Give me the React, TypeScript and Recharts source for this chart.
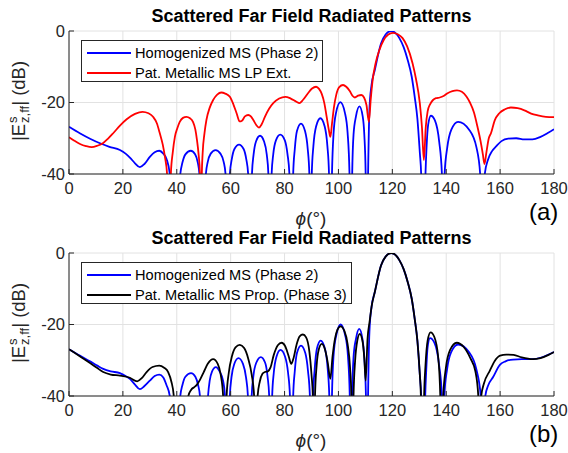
import React from 'react';
import { LineChart, Line, XAxis, YAxis, CartesianGrid } from 'recharts';

type Pt = [number, number];

const PHI_TICKS = [0, 20, 40, 60, 80, 100, 120, 140, 160, 180];
const DB_TICKS = [-40, -20, 0];

const TITLE = 'Scattered Far Field Radiated Patterns';
const NAME_HOMOG = 'Homogenized MS (Phase 2)';
const NAME_LP = 'Pat. Metallic MS LP Ext.';
const NAME_PROP = 'Pat. Metallic MS Prop. (Phase 3)';

// (a) blue: homogenized MS, phase 2  [phi deg, dB]
const homogTop: Pt[] = [
  [0, -26.8], [4, -28.6], [8, -30.2], [11.5, -31.4], [15, -32.4], [18.9, -33.3], [21, -34.3], [22.6, -35.4],
  [24.5, -37], [26.3, -38.1], [28, -37.2], [30, -35.2], [31.8, -33.9], [33.5, -33.5], [35, -34.3], [36.2, -35.8],
  [37.4, -40], [39.3, -70],
  [41.3, -40], [42.1, -36.8], [43.2, -34.5], [45.2, -33.5], [46.8, -34.5], [47.8, -36.8], [48.4, -40], [49.6, -70],
  [50.8, -40], [51.5, -36.6], [52.6, -34.3], [54.4, -33.3], [56.2, -34.3], [57.4, -36.6], [58.1, -40], [58.9, -70],
  [59.7, -40], [60.4, -35.9], [61.4, -33], [63.1, -31.8], [64.8, -33], [65.8, -35.9], [66.5, -40], [67.2, -70],
  [67.9, -40], [68.5, -34.6], [69.4, -30.9], [70.9, -29.3], [72.4, -30.9], [73.4, -34.6], [74, -40], [74.6, -70],
  [75.2, -40], [75.8, -34.5], [76.8, -30.6], [78.4, -29], [80.1, -30.6], [81.1, -34.5], [81.8, -40], [82.5, -70],
  [83.2, -40], [83.8, -33], [84.6, -28], [86.1, -25.9], [87.6, -28], [88.6, -33], [89.2, -40], [89.6, -70],
  [90.1, -40], [90.7, -32.2], [91.7, -26.7], [93.3, -24.4], [94.9, -26.7], [95.9, -32.2], [96.5, -40], [97, -70],
  [97.6, -40], [98.2, -28.5], [99.1, -22.9], [100.7, -19.9], [102.4, -22.9], [103.4, -28.5], [104.1, -40], [104.6, -70],
  [105.1, -40], [105.6, -29], [106.5, -23.9], [107.8, -21.1], [109, -23.9], [109.6, -29], [110.1, -40], [110.5, -70],
  [111, -40], [111.5, -22], [112.3, -15], [113.5, -10.9], [115.8, -3.5], [117.5, -1], [119.5, 0], [121.5, -0.8],
  [122.6, -2], [124.2, -4.5], [125.7, -8.1], [127.2, -12.8], [128.3, -18.4], [129.3, -24.5], [130.2, -34], [130.7, -40],
  [131.5, -70],
  [132.3, -40], [132.7, -32.5], [133.3, -26.2], [134.3, -23.7], [135.8, -25], [137.4, -31], [138.4, -40], [138.9, -70],
  [139.4, -40], [140.4, -32.5], [141.9, -27.6], [144.4, -25.4], [148.5, -27.6], [151.2, -32.5], [152.6, -40], [153.5, -70],
  [154.3, -40], [155.5, -36], [157, -33.6], [158.6, -32.2], [160.5, -30.8], [163, -30.1], [166, -30], [169, -30.3],
  [172, -30.3], [175, -29.6], [178, -28.4], [180, -27.5],
];

// (a) red: patterned metallic MS, LP extraction
const metallicLP: Pt[] = [
  [0, -29.7], [2, -30.7], [4.1, -31.6], [6.3, -32.2], [8.4, -32.5], [10.5, -32.1], [12.7, -31.3], [14.5, -30.1],
  [16.4, -28.6], [19, -26.4], [21.4, -24.7], [24.5, -23.2], [27.3, -22.6], [29.5, -23], [31.2, -24], [32.6, -25.8],
  [33.7, -28.6], [34.8, -31.8], [35.6, -35.2], [36.4, -40], [37.1, -70], [37.8, -40], [38.5, -34], [39.3, -29.6],
  [40.2, -27.2], [41.1, -25.4], [42.3, -24.3], [43.6, -24], [44.9, -24.4], [46, -25.4], [46.9, -27.6], [47.5, -30.5],
  [48.1, -34.5], [48.6, -40], [48.9, -70], [49.3, -40], [49.6, -34.2], [50.3, -28.5], [51, -24.9], [52.2, -21.5],
  [53.5, -19.3], [55, -17.8], [56.5, -17.2], [58, -17.5], [59.7, -18.4], [61, -20.5], [62.2, -23], [63.3, -25.3],
  [64.2, -25.1], [65.3, -23.9], [66.5, -23.5], [67.5, -23.9], [68.4, -24.9], [69.5, -26.3], [70.5, -27], [71.5, -26.1],
  [72.7, -24], [74.2, -21.8], [75.8, -20.2], [78, -18.9], [80.3, -18.4], [82.3, -18.9], [84.4, -19.8], [85.5, -20.2],
  [86.8, -19.3], [88.7, -17.4], [90.2, -16.1], [91.7, -15.6], [92.8, -16.2], [93.8, -17.6], [94.8, -20.3], [95.6, -23.9],
  [96.4, -27.5], [97, -29.6], [97.6, -26], [98.3, -21.5], [99.2, -17.8], [100.3, -15.7], [101.7, -15.1], [102.9, -15.6],
  [104.2, -16.8], [105.2, -18.1], [106.1, -18.6], [107.3, -18.1], [108.5, -17.9], [109.5, -18.6], [110.4, -20.7], [111.3, -25.4],
  [112, -19], [112.7, -13.7], [113.8, -9], [115.2, -5.3], [116.8, -2.5], [118.5, -1], [120.2, -0.5], [122, -0.9],
  [123.8, -2], [125.5, -4.3], [127.5, -9], [128.8, -13.5], [130.2, -20.2], [131, -27], [131.7, -36.1], [132.4, -27],
  [133.1, -22.5], [134, -20.5], [135.1, -19.3], [136.2, -18.8], [137.6, -18.6], [139, -18.2], [140.5, -17.4], [142.3, -16.8],
  [144, -16.6], [145.8, -17], [147.5, -18.3], [148.8, -20], [150.3, -22.8], [151.6, -26.8], [152.8, -31], [153.6, -34.5],
  [154.2, -37.2], [154.9, -34], [155.8, -30], [156.6, -28.6], [158, -25], [159.7, -23], [161.8, -21.9], [164, -21.4],
  [166.5, -21.6], [169, -22.2], [171.5, -23.1], [174, -23.6], [177, -24], [180, -24.1],
];

// (b) blue: homogenized MS, phase 2
const homogBottom: Pt[] = [
  [0, -26.9], [4, -28.7], [7.8, -30.3], [10.5, -31.5], [12.7, -32.4], [15.5, -33.1], [18.9, -33.6], [21, -34.4],
  [22.6, -35.2], [24.5, -36.8], [26.3, -38.1], [28, -37.2], [30, -35.7], [31.8, -34.4], [33.5, -34], [35, -34.8],
  [36.2, -37], [37.4, -40], [39.3, -70],
  [41.3, -40], [42.1, -36.9], [43.2, -34.6], [45.3, -33.6], [46.9, -34.6], [47.9, -36.9], [48.6, -40], [50, -70],
  [51.6, -40], [52.2, -35.8], [53.1, -33.1], [54.5, -31.9], [55.9, -33.1], [57.2, -35.8], [57.9, -40], [58.8, -70],
  [59.7, -40], [60.3, -34.8], [61.3, -31.1], [62.9, -29.4], [64.6, -31.1], [65.7, -34.8], [66.4, -40], [67.1, -70],
  [67.8, -40], [68.4, -34.6], [69.5, -30.7], [71.2, -29.1], [72.8, -30.7], [73.7, -34.6], [74.3, -40], [74.9, -70],
  [75.4, -40], [76, -33.5], [77, -29], [78.5, -27.1], [80.2, -29], [81.3, -33.5], [82, -40], [82.6, -70],
  [83.2, -40], [83.8, -33], [84.6, -28], [86.1, -25.9], [87.7, -28], [88.7, -33], [89.4, -40], [90, -70],
  [90.6, -40], [91.2, -32.3], [92, -26.8], [93.4, -24.5], [95, -26.8], [96, -32.3], [96.6, -40], [97.1, -70],
  [97.6, -40], [98.2, -28.6], [99.2, -23], [100.8, -20], [102.5, -23], [103.5, -28.6], [104.2, -40], [104.7, -70],
  [105.1, -40], [105.6, -29.2], [106.5, -24], [107.7, -21.2], [108.9, -24], [109.6, -29.2], [110.2, -40], [110.6, -70],
  [111, -40], [111.5, -22], [112.3, -15], [113.5, -10.9], [115.8, -3.5], [117.5, -1], [119.6, 0], [121.5, -0.8],
  [122.6, -2], [124.2, -4.5], [125.7, -8.1], [127.2, -12.8], [128.3, -18.4], [129.3, -24.5], [130.2, -34], [130.7, -40],
  [131.5, -70],
  [132.2, -40], [132.6, -32.5], [133.1, -26.3], [134, -23.8], [135.6, -25.1], [137.3, -31], [138.4, -40], [138.9, -70],
  [139.3, -40], [140.3, -32.6], [141.8, -27.8], [144.4, -25.6], [148.5, -27.8], [151.2, -32.6], [152.8, -40], [153.8, -70],
  [154.5, -40], [155.6, -37], [157.4, -34.7], [159.9, -31.3], [162, -30.3], [164.8, -29.8], [168, -29.7], [172.2, -29.7],
  [175, -29.3], [178, -28.4], [180, -27.7],
];

// (b) black: patterned metallic MS, propagation (phase 3)
const metallicProp: Pt[] = [
  [0, -26.9], [4, -28.9], [7.8, -30.8], [10.5, -32.2], [12.7, -33.3], [15.5, -34], [18.9, -34.3], [22.6, -34.9],
  [25.3, -35.9], [27, -35], [28.8, -33.3], [31, -31.9], [33.5, -31.5], [35.3, -32.1], [36.8, -33.3], [38, -36],
  [38.9, -40], [40, -70], [43.3, -50], [44.3, -40], [45.3, -38.3], [46.5, -37.5], [47.5, -36.8], [48.6, -35.5],
  [50, -33.3], [51.5, -31], [53.5, -29.7], [55.2, -31], [56.3, -34], [57.2, -40], [57.8, -70], [58.5, -40],
  [59.3, -33.5], [60.5, -28.8], [61.8, -26.4], [63.4, -25.7], [65, -26.6], [66.5, -29.5], [67.8, -34], [68.7, -40],
  [69.3, -70], [70, -40], [70.8, -36], [71.8, -33.8], [72.7, -33.3], [73.8, -33.1], [74.8, -32], [76, -28.5],
  [77.5, -25.8], [78.9, -25.1], [80.2, -26], [81.5, -28.8], [82.5, -31], [83.3, -29.5], [84.5, -25.5], [85.6, -23.3],
  [86.8, -22.8], [88, -23.6], [89.2, -27.5], [90, -34], [90.5, -40], [90.9, -70], [91.3, -40], [91.9, -31.5],
  [92.7, -27], [93.8, -25.4], [95, -27], [96, -30.5], [97, -35.2], [97.8, -29], [98.7, -24], [99.6, -21.5],
  [100.8, -20.5], [102.2, -21.8], [103.4, -25.5], [104.3, -32], [104.8, -40], [105.2, -70], [105.6, -40], [106.2, -30],
  [107, -24.5], [107.9, -22.6], [108.9, -24.5], [109.6, -29.5], [110.1, -35.7], [110.8, -24], [111.6, -19], [112.3, -15],
  [113.5, -10.9], [115.8, -3.5], [117.5, -1], [119.6, 0], [121.5, -0.8], [122.6, -2], [124.2, -4.5], [125.7, -8.1],
  [127.2, -12.8], [128.3, -18.4], [129.3, -24.5], [130.2, -34], [130.6, -40], [131.2, -70], [131.8, -40], [132.3, -31.5],
  [133.1, -24.5], [134.2, -22.2], [135.6, -23.5], [137, -29], [137.8, -40], [138.3, -70], [138.9, -40], [139.9, -32],
  [141.4, -27.2], [143.9, -25.1], [146.5, -26.3], [149, -29.5], [150.8, -33], [151.9, -40], [152.4, -70], [153, -40],
  [154, -36.5], [156.2, -32.9], [158, -30.2], [160, -28.7], [162.3, -28.4], [165, -28.5], [168, -29.2], [172.2, -29.7],
  [175, -29.4], [178, -28.5], [180, -27.7],
];

const INK = '#262626';
const FONT = '"Liberation Sans", Arial, Helvetica, sans-serif';
const W = 568;
const PANEL_H = 226;

interface Series {
  name: string;
  color: string;
  pts: Pt[];
}

const toRows = (pts: Pt[]) => pts.map(([phi, db]) => ({ phi, db }));

// y label: |E^s_{z,ff}| (dB)
const YLabel = () => (
  <div
    style={{
      position: 'absolute',
      left: 19,
      top: 101,
      transform: 'translate(-50%, -50%) rotate(-90deg)',
      whiteSpace: 'nowrap',
      fontSize: 18.5,
      color: INK,
      display: 'flex',
      alignItems: 'center',
    }}
  >
    <span>|E</span>
    <span
      style={{
        display: 'inline-flex',
        flexDirection: 'column',
        fontSize: 13,
        lineHeight: '12px',
        marginLeft: 1,
      }}
    >
      <span>s</span>
      <span>z,ff</span>
    </span>
    <span>| (dB)</span>
  </div>
);

const LegendBox = ({ series, width }: { series: Series[]; width: number }) => (
  <div
    style={{
      position: 'absolute',
      left: 81,
      top: 40,
      width,
      height: 42,
      border: `1px solid ${INK}`,
      background: '#fff',
      boxSizing: 'border-box',
    }}
  >
    {series.map((s, i) => (
      <div
        key={s.name}
        style={{ position: 'absolute', left: 5, top: 3 + i * 19.5, height: 18, display: 'flex', alignItems: 'center' }}
      >
        <span style={{ display: 'inline-block', width: 44, height: 2, background: s.color }} />
        <span style={{ marginLeft: 4, fontSize: 14.6, color: '#000', whiteSpace: 'nowrap' }}>{s.name}</span>
      </div>
    ))}
  </div>
);

const Panel = ({
  top,
  tag,
  series,
  legendWidth,
}: {
  top: number;
  tag: string;
  series: Series[];
  legendWidth: number;
}) => (
  <div style={{ position: 'absolute', left: 0, top, width: W, height: PANEL_H }}>
    <LineChart
      width={W}
      height={PANEL_H}
      margin={{ top: 31, right: 14, bottom: 22, left: 9 }}
      style={{ fontFamily: FONT }}
    >
      <CartesianGrid stroke="#e2e2e2" />
      <XAxis
        type="number"
        dataKey="phi"
        domain={[0, 180]}
        ticks={PHI_TICKS}
        interval={0}
        allowDataOverflow
        height={30}
        stroke={INK}
        tickSize={-5}
        tickMargin={13}
        tick={{ fontSize: 16.5, fill: INK }}
      />
      <YAxis
        type="number"
        dataKey="db"
        domain={[-40, 0]}
        ticks={DB_TICKS}
        interval={0}
        allowDataOverflow
        width={60}
        stroke={INK}
        tickSize={-5}
        tickMargin={9}
        tick={{ fontSize: 16.5, fill: INK }}
      />
      {series.map((s) => (
        <Line
          key={s.name}
          data={toRows(s.pts)}
          dataKey="db"
          type="monotone"
          stroke={s.color}
          strokeWidth={1.8}
          dot={false}
          activeDot={false}
          isAnimationActive={false}
        />
      ))}
    </LineChart>
    <div
      style={{
        position: 'absolute',
        left: 69,
        width: 485,
        top: 6,
        textAlign: 'center',
        fontWeight: 'bold',
        fontSize: 18,
        color: '#000',
        whiteSpace: 'nowrap',
      }}
    >
      {TITLE}
    </div>
    <YLabel />
    <div
      style={{
        position: 'absolute',
        left: 261,
        width: 100,
        top: 208,
        lineHeight: '22px',
        textAlign: 'center',
        fontSize: 19,
        color: INK,
      }}
    >
      <i>ϕ</i>(°)
    </div>
    <div
      style={{ position: 'absolute', left: 529, top: 200, fontSize: 24, lineHeight: '24px', color: '#000' }}
    >
      {tag}
    </div>
    <LegendBox series={series} width={legendWidth} />
  </div>
);

export default function App() {
  const blue = '#0000ff';
  return (
    <div
      style={{
        position: 'absolute',
        left: 0,
        top: 0,
        width: W,
        height: 453,
        background: '#fff',
        fontFamily: FONT,
        overflow: 'hidden',
      }}
    >
      <Panel
        top={0}
        tag="(a)"
        legendWidth={242}
        series={[
          { name: NAME_HOMOG, color: blue, pts: homogTop },
          { name: NAME_LP, color: '#ff0000', pts: metallicLP },
        ]}
      />
      <Panel
        top={222}
        tag="(b)"
        legendWidth={271}
        series={[
          { name: NAME_HOMOG, color: blue, pts: homogBottom },
          { name: NAME_PROP, color: '#000000', pts: metallicProp },
        ]}
      />
    </div>
  );
}
